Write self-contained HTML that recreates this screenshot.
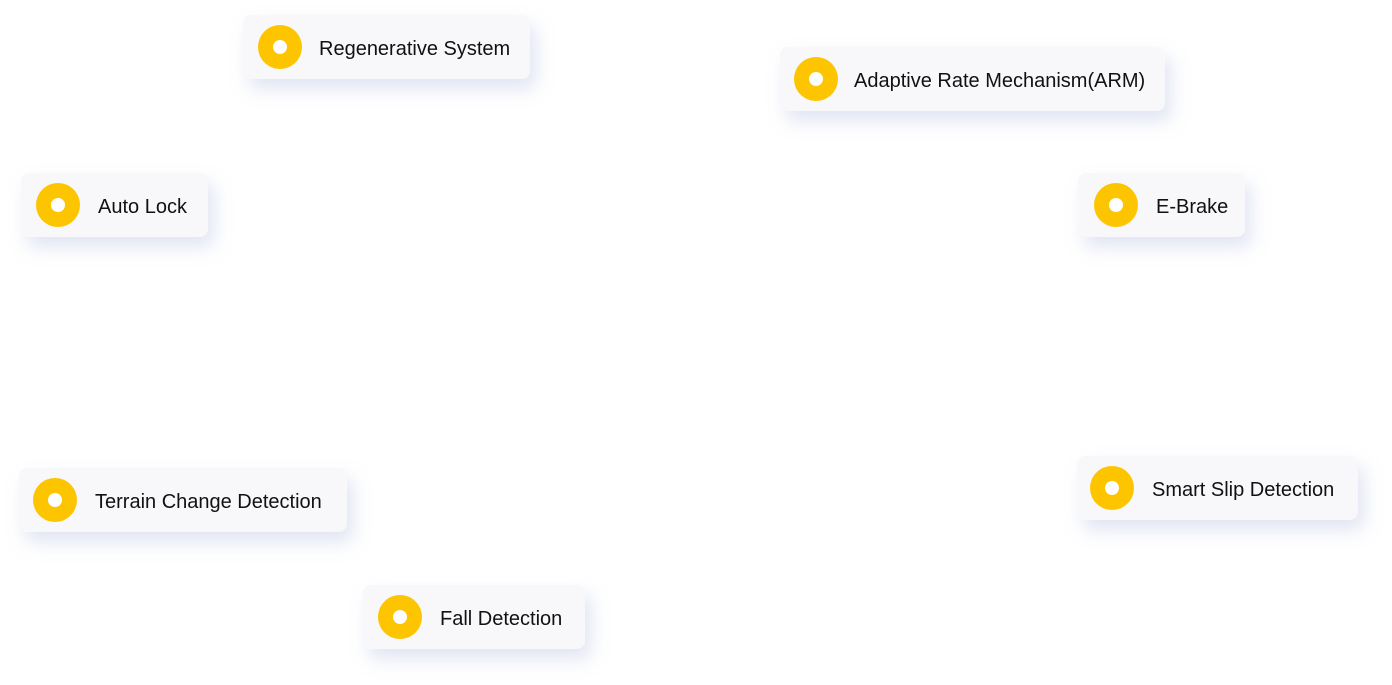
<!DOCTYPE html>
<html><head><meta charset="utf-8"><style>
html,body{margin:0;padding:0;background:#fff;width:1392px;height:685px;overflow:hidden;position:relative}
.c{position:absolute;height:64px;background:#f8f8fb;border-radius:8px;box-shadow:6px 10px 18px rgba(170,180,220,0.35);font-family:"Liberation Sans",sans-serif;font-size:20px;color:#111;}
.c .d{position:absolute;top:10px;width:44px;height:44px;border-radius:50%;background:#fdc500;}
.c .d::after{content:"";position:absolute;left:15px;top:15px;width:14px;height:14px;border-radius:50%;background:#fff}
.c span{position:absolute;top:2px;line-height:64px;white-space:nowrap}
</style></head><body>
<div class="c" style="left:243px;top:15px;width:287px"><div class="d" style="left:15px"></div><span style="left:76px">Regenerative System</span></div>
<div class="c" style="left:780px;top:47px;width:385px"><div class="d" style="left:14px"></div><span style="left:74px">Adaptive Rate Mechanism(ARM)</span></div>
<div class="c" style="left:21px;top:173px;width:187px"><div class="d" style="left:15px"></div><span style="left:77px">Auto Lock</span></div>
<div class="c" style="left:1078px;top:173px;width:167px"><div class="d" style="left:16px"></div><span style="left:78px">E-Brake</span></div>
<div class="c" style="left:19px;top:468px;width:328px"><div class="d" style="left:14px"></div><span style="left:76px">Terrain Change Detection</span></div>
<div class="c" style="left:1077px;top:456px;width:281px"><div class="d" style="left:13px"></div><span style="left:75px">Smart Slip Detection</span></div>
<div class="c" style="left:363px;top:585px;width:222px"><div class="d" style="left:15px"></div><span style="left:77px">Fall Detection</span></div>
</body></html>
